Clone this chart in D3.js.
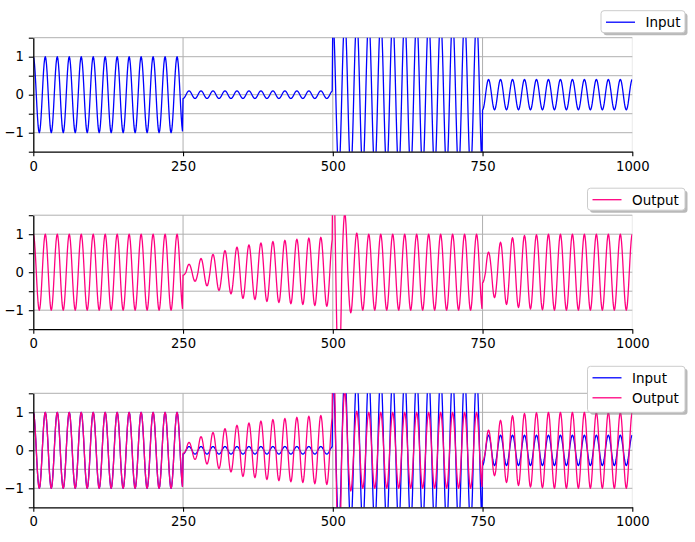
<!DOCTYPE html>
<html>
<head>
<meta charset="utf-8">
<script src="https://cdn.jsdelivr.net/npm/d3@7"></script>
<style>
  body { margin: 0; background: #ffffff; }
  svg { font-family: "DejaVu Sans", sans-serif; }
</style>
</head>
<body>
<div id="chart"></div>
<script>
// values
var xTicks = [0, 250, 500, 750, 1000];
var yTicks = [-1, 0, 1];
var yGrid = [-1.5, -1, -0.5, 0, 0.5, 1, 1.5];
var segmentStarts = [0, 250, 500, 750];
var period = 20;              // samples per cycle
var halfCycle = 10;

// input amplitude of each segment
var inputAmp = [1, 0.1, 2, 0.4];

// output peak amplitude, one value per half cycle (peaks at start, start+10, ...)
var outputSeg1 = [1, 1, 1, 1, 1, 1, 1, 1, 1, 1, 1, 1, 1, 1, 1, 1, 1, 1, 1, 1, 1, 1, 1, 1, 1];
var outputSeg2 = [0.08, 0.21, 0.24, 0.36, 0.36, 0.47, 0.48, 0.57, 0.57, 0.66, 0.69, 0.72, 0.72,
                  0.77, 0.77, 0.81, 0.80, 0.84, 0.83, 0.87, 0.85, 0.90, 0.88, 0.92, 0.90];
var outputSeg3 = [3.2, 3.0, 1.55, 1.07, 1.03, 1.0, 1, 1, 1, 1, 1, 1, 1, 1, 1, 1, 1, 1, 1, 1, 1, 1, 1, 1, 1];
var outputSeg4 = [0.28, 0.53, 0.67, 0.79, 0.85, 0.91, 0.93, 0.97, 0.97, 0.99, 0.99, 1, 1,
                  1, 1, 1, 1, 1, 1, 1, 1, 1, 1, 1, 1, 1];
var outputAmp = [outputSeg1, outputSeg2, outputSeg3, outputSeg4];

var inputColor = "#0000ff";
var outputColor = "#ff0080";

// build the two series sample by sample
function segmentOf(n) {
    var s = 0;
    for (var i = 0; i < segmentStarts.length; i++) {
        if (n >= segmentStarts[i]) s = i;
    }
    return s;
}

var inputData = [];
var outputData = [];
for (var n = 0; n <= 1000; n++) {
    var s = segmentOf(n);
    var carrier = Math.cos(2 * Math.PI * n / period);
    var amps = outputAmp[s];
    var k = Math.min(Math.round((n - segmentStarts[s]) / halfCycle), amps.length - 1);
    inputData.push({ x: n, y: inputAmp[s] * carrier });
    outputData.push({ x: n, y: amps[k] * carrier });
}

var width = 695, height = 542;
var left = 33.3, right = 632.3;
var plotH = 114;
var plotTops = [37.7, 215.2, 393.3];

var panels = [
    { series: [{ name: "Input", data: inputData, color: inputColor }] },
    { series: [{ name: "Output", data: outputData, color: outputColor }] },
    { series: [{ name: "Input", data: inputData, color: inputColor },
               { name: "Output", data: outputData, color: outputColor }] }
];

var svg = d3.select("#chart")
    .append("svg")
    .attr("width", width)
    .attr("height", height);

var x = d3.scaleLinear().domain([0, 1000]).range([left, right]);

panels.forEach(function (panel, i) {
    var top = plotTops[i];
    var y = d3.scaleLinear().domain([-1.5, 1.5]).range([top + plotH, top]);
    var g = svg.append("g");

    // grid
    g.selectAll(".hgrid")
        .data(yGrid.slice(1))
        .enter()
        .append("line")
        .attr("x1", left).attr("x2", right)
        .attr("y1", function (d) { return y(d); })
        .attr("y2", function (d) { return y(d); })
        .attr("stroke", "#b0b0b0")
        .attr("stroke-width", 1);

    g.selectAll(".vgrid")
        .data(xTicks.slice(1))
        .enter()
        .append("line")
        .attr("x1", function (d) { return x(d); })
        .attr("x2", function (d) { return x(d); })
        .attr("y1", top).attr("y2", top + plotH)
        .attr("stroke", "#b0b0b0")
        .attr("stroke-opacity", function (d) { return d === 1000 ? 0.25 : 1; })
        .attr("stroke-width", 1);

    // lines, clipped to plot area
    var clipId = "clip" + i;
    svg.append("clipPath")
        .attr("id", clipId)
        .append("rect")
        .attr("x", left).attr("y", top)
        .attr("width", right - left).attr("height", plotH);

    var line = d3.line()
        .x(function (d) { return x(d.x); })
        .y(function (d) { return y(d.y); });

    panel.series.forEach(function (ser) {
        g.append("path")
            .datum(ser.data)
            .attr("clip-path", "url(#" + clipId + ")")
            .attr("fill", "none")
            .attr("stroke", ser.color)
            .attr("stroke-width", 1.3)
            .attr("stroke-linejoin", "round")
            .attr("d", line);
    });

    // y axis: minor ticks every 0.5, labels only on integers
    var yAxis = d3.axisLeft(y)
        .tickValues(yGrid)
        .tickSizeInner(4.5)
        .tickSizeOuter(0)
        .tickPadding(5)
        .tickFormat(function (d) { return yTicks.indexOf(d) >= 0 ? d3.format("d")(d) : ""; });
    var ya = g.append("g")
        .attr("transform", "translate(" + left + ",0)")
        .call(yAxis);

    var xAxis = d3.axisBottom(x)
        .tickValues(xTicks)
        .tickSizeInner(4.5)
        .tickSizeOuter(0)
        .tickPadding(5)
        .tickFormat(d3.format("d"));
    var xa = g.append("g")
        .attr("transform", "translate(0," + (top + plotH) + ")")
        .call(xAxis);

    [ya, xa].forEach(function (a) {
        a.select(".domain").attr("stroke", "#000").attr("stroke-width", 1.3);
        a.selectAll(".tick line").attr("stroke", "#000").attr("stroke-width", 1.1);
        a.selectAll(".tick text")
            .attr("fill", "#000")
            .style("font-size", "13.2px")
            .style("font-family", "DejaVu Sans");
    });

    // legend with shadow
    var rowH = 20;
    var lw = panel.series.length > 1 || panel.series[0].name === "Output" ? 97.5 : 84;
    var lh = 8 + rowH * panel.series.length - (panel.series.length > 1 ? 2 : 6);
    var lx = 687.5 - 2.5 - lw;
    var ly = top - 27;

    var leg = svg.append("g").attr("transform", "translate(" + lx + "," + ly + ")");
    leg.append("rect")
        .attr("x", 2.5).attr("y", 2.5)
        .attr("width", lw).attr("height", lh)
        .attr("rx", 3)
        .attr("fill", "#808080")
        .attr("fill-opacity", 0.55);
    leg.append("rect")
        .attr("width", lw).attr("height", lh)
        .attr("rx", 3)
        .attr("fill", "#ffffff")
        .attr("stroke", "#cccccc")
        .attr("stroke-width", 1);

    panel.series.forEach(function (ser, j) {
        var cy = 11.5 + j * rowH;
        leg.append("line")
            .attr("x1", 5).attr("x2", 34)
            .attr("y1", cy).attr("y2", cy)
            .attr("stroke", ser.color)
            .attr("stroke-width", 1.3);
        leg.append("text")
            .attr("x", 44.5)
            .attr("y", cy)
            .attr("dy", "0.36em")
            .style("font-size", "13.5px")
            .text(ser.name);
    });
});
</script>
</body>
</html>
